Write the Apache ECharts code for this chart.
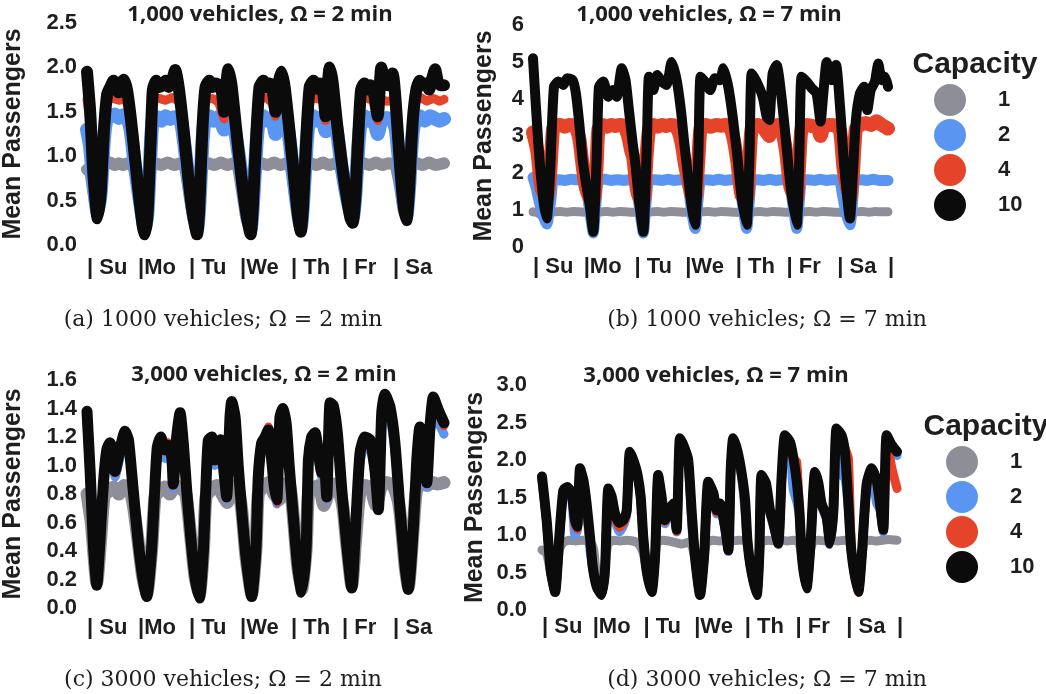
<!DOCTYPE html>
<html>
<head>
<meta charset="utf-8">
<script src="https://cdn.jsdelivr.net/npm/echarts@6.0.0/dist/echarts.min.js"></script>
<style>
html, body { margin: 0; padding: 0; background: #fff; }
#chart { width: 1046px; height: 694px; }
</style>
</head>
<body>
<div id="chart"></div>
<script>
// capacities and day labels
var capacities = ['1', '2', '4', '10'];
var days = ['| Su', '|Mo', '| Tu', '|We', '| Th', '| Fr', '| Sa', '|'];

// (a) 1000 vehicles, 2 min  -- [hour of week, mean passengers]
var aGray = [[0,0.85],[1.5,0.82],[3,0.6],[5,0.35],[6,0.55],[7,0.88],[9,0.91],[11,0.93],[13,0.9],[15,0.92],[17,0.9],[19,0.92],[21,0.9],[22.8,0.82],[25,0.45],[27.3,0.18],
  [28.8,0.5],[29.7,0.88],[32,0.92],[35,0.9],[38,0.93],[41,0.9],[44,0.92],[46,0.88],[48,0.6],[50,0.3],[51.8,0.18],
  [53,0.5],[54,0.88],[57,0.92],[60,0.9],[63,0.93],[66,0.9],[69,0.92],[71,0.88],[73,0.6],[75,0.3],[77,0.18],
  [78.3,0.5],[79.3,0.88],[82,0.92],[85,0.9],[88,0.93],[91,0.9],[94,0.92],[96,0.86],[98,0.55],[100.6,0.2],
  [101.8,0.5],[102.8,0.88],[105,0.92],[108,0.9],[111,0.93],[114,0.9],[117,0.92],[119.5,0.86],[122,0.55],[125,0.3],
  [126.5,0.55],[127.4,0.88],[130,0.92],[133,0.9],[136,0.93],[139,0.9],[142,0.92],[145,0.9],[147,0.7],[149,0.4],[150.3,0.32],
  [151.6,0.6],[152.4,0.88],[155,0.92],[158,0.9],[161,0.93],[164,0.9],[168,0.92]];
var aBlue = [[0,1.3],[1.5,1.1],[3,0.7],[5,0.36],[6.5,0.6],[8,1.2],[9.3,1.42],[11,1.45],[13,1.47],[15,1.43],[17,1.46],[19,1.42],[20.5,1.3],[22.5,0.9],[25,0.48],[27.3,0.18],
  [28.5,0.38],[30,1.1],[31,1.42],[33,1.44],[35,1.4],[37,1.45],[39,1.42],[41,1.44],[43,1.43],[44.5,1.35],[46,1.1],[48,0.7],[50,0.38],[51.8,0.18],
  [52.8,0.42],[54.3,1.15],[55.5,1.42],[57.5,1.45],[59.5,1.4],[61.5,1.44],[63,1.4],[64.5,1.3],[66,1.42],[68,1.42],[69.5,1.3],[71.5,1.0],[73.5,0.65],[75.5,0.33],[77,0.18],
  [78,0.42],[79.8,1.15],[81,1.42],[83,1.45],[85,1.4],[87,1.43],[88.7,1.25],[90,1.4],[92,1.43],[94,1.38],[95.5,1.15],[97.5,0.7],[99.2,0.38],[100.6,0.2],
  [101.7,0.47],[103.4,1.15],[104.7,1.42],[106.5,1.45],[108.5,1.4],[110.5,1.44],[112.3,1.28],[114,1.42],[116,1.42],[117.8,1.25],[120,0.85],[122.8,0.48],[125,0.3],
  [126.3,0.57],[127.8,1.15],[129,1.42],[130.5,1.45],[132.5,1.4],[134.5,1.44],[136.8,1.25],[138.5,1.4],[141,1.43],[143.8,1.4],[145.3,1.3],[147,0.9],[149,0.48],[150.3,0.33],
  [151.5,0.62],[153,1.2],[154.5,1.42],[156.5,1.45],[159,1.4],[161.5,1.45],[164,1.42],[166,1.4],[168,1.42]];
var aRed = [[0,1.64],[1.5,1.35],[3,0.78],[5,0.4],[6.5,0.64],[8,1.3],[9.6,1.63],[12,1.65],[15,1.63],[18,1.65],[19.5,1.52],[21,1.3],[23,0.9],[25,0.52],[27.3,0.3],
  [28.5,0.4],[30,1.15],[31.2,1.63],[34,1.65],[37,1.63],[40,1.66],[43.5,1.6],[45,1.35],[47.5,0.78],[49.5,0.45],[51.8,0.3],
  [52.8,0.45],[54.3,1.25],[56,1.63],[59,1.65],[62,1.6],[64.5,1.42],[65.5,1.62],[68,1.63],[70,1.3],[72.5,0.78],[75,0.42],[77,0.3],
  [78,0.45],[79.8,1.25],[81.5,1.63],[84,1.66],[87,1.6],[88.7,1.45],[90,1.62],[93,1.63],[95,1.3],[97.5,0.72],[99.2,0.42],[100.6,0.3],
  [101.7,0.5],[103.4,1.25],[105,1.63],[108,1.65],[111,1.62],[112.3,1.4],[114,1.62],[116,1.64],[117.5,1.38],[120,0.85],[122.5,0.5],[125,0.38],
  [126.3,0.58],[127.8,1.25],[129.3,1.63],[131.5,1.65],[134.5,1.62],[136.8,1.4],[138.5,1.64],[141,1.62],[143.8,1.63],[145.3,1.45],[147.3,0.88],[149,0.5],[150.3,0.4],
  [151.5,0.62],[153.3,1.35],[155,1.63],[157,1.66],[160,1.62],[163,1.65],[166,1.62],[168,1.64]];
var aBlack = [[0,1.95],[1.5,1.5],[3,0.8],[5,0.3],[6.5,0.6],[8,1.3],[9.5,1.7],[11,1.78],[12.5,1.85],[13.5,1.8],[14.8,1.72],[16,1.82],[17.3,1.86],[18.8,1.75],[20.5,1.45],[22.5,1.0],[24.5,0.55],[26.3,0.2],[27.3,0.12],
  [28.5,0.35],[30,1.2],[31,1.75],[32.5,1.85],[34,1.78],[35.5,1.8],[37,1.85],[38.5,1.78],[40,1.85],[41.5,1.97],[43,1.8],[45,1.4],[47.5,0.8],[49.5,0.4],[51.8,0.12],
  [52.8,0.4],[54.3,1.3],[55.8,1.78],[57.5,1.85],[59,1.78],[60.5,1.82],[62,1.8],[63.5,1.72],[64.5,1.5],[65.5,1.8],[66.5,1.98],[68,1.8],[70,1.35],[72.5,0.8],[75,0.35],[77,0.12],
  [78,0.4],[79.8,1.3],[81.2,1.78],[83,1.85],[84.5,1.78],[86,1.82],[87.5,1.72],[88.7,1.5],[90,1.8],[91.5,1.95],[93,1.78],[95,1.35],[97.5,0.75],[99.2,0.35],[100.6,0.15],
  [101.7,0.45],[103.4,1.3],[104.8,1.78],[106.5,1.85],[108,1.76],[109.5,1.82],[111,1.75],[112.3,1.45],[113.3,1.8],[114.2,2.0],[115.5,1.85],[117.5,1.4],[120,0.9],[122.5,0.5],[124,0.3],[125,0.25],
  [126.3,0.55],[127.8,1.3],[129,1.75],[130.5,1.82],[132,1.75],[133.5,1.8],[135,1.72],[136.8,1.45],[138.5,2.0],[140,1.85],[141.5,1.8],[143.8,1.93],[145.3,1.6],[147.3,0.9],[149,0.45],[150.3,0.28],
  [151.5,0.6],[153.3,1.4],[155,1.75],[156.5,1.85],[158,1.8],[159.5,1.82],[161,1.75],[162.5,1.88],[163.8,1.98],[165,1.85],[166.5,1.8],[168,1.8]];

// (b) 1000 vehicles, 7 min
var bGray = [[0,0.95],[2,0.93],[4,0.85],[6.5,0.7],[8,0.9],[10,0.95],[13,0.96],[16,0.94],[19,0.96],[22,0.95],[25,0.94],[26.7,0.9],[28.5,0.5],
  [30,0.9],[32,0.95],[35,0.96],[38,0.94],[41,0.96],[44,0.95],[47,0.94],[50,0.92],[51,0.8],[52.2,0.5],
  [53.6,0.9],[56,0.95],[59,0.96],[62,0.94],[65,0.96],[68,0.95],[71,0.94],[74,0.93],[75.2,0.85],[76.7,0.62],
  [78,0.9],[80,0.95],[83,0.96],[86,0.94],[89,0.96],[92,0.95],[95,0.94],[98.5,0.93],[99.8,0.85],[101.1,0.62],
  [102.4,0.9],[104.5,0.95],[107.5,0.96],[110.5,0.94],[113.5,0.96],[116.5,0.95],[119.5,0.94],[122.5,0.93],[123.7,0.85],[124.8,0.62],
  [126,0.9],[128,0.95],[131,0.96],[134,0.94],[137,0.96],[140,0.95],[143,0.94],[147.5,0.93],[148.8,0.85],[150,0.7],
  [151.2,0.9],[153,0.95],[156,0.96],[159,0.94],[162,0.96],[165,0.95],[168,0.95]];
var bBlue = [[0,1.88],[1.5,1.6],[3.5,1.1],[6.5,0.62],[8.5,1.3],[9.5,1.8],[12,1.82],[15,1.8],[18,1.83],[21,1.82],[23.5,1.82],[24.8,1.72],[26,1.3],[27.3,0.8],[28.5,0.38],
  [29.8,1.2],[31,1.8],[34,1.83],[37,1.8],[40,1.82],[43,1.8],[46,1.82],[48.6,1.8],[49.6,1.4],[51,0.8],[52.2,0.38],
  [53.5,1.2],[54.8,1.8],[58,1.82],[61,1.8],[64,1.83],[67,1.8],[70,1.82],[72.5,1.8],[73.8,1.5],[75,1.0],[76.7,0.5],
  [78,1.2],[79.3,1.8],[82,1.82],[85,1.8],[88,1.83],[91,1.8],[94,1.82],[97,1.8],[98.3,1.45],[99.7,0.95],[101.1,0.5],
  [102.3,1.2],[103.4,1.8],[106,1.82],[109,1.8],[112,1.83],[115,1.8],[118,1.82],[120.8,1.8],[122,1.5],[123.5,0.95],[124.8,0.5],
  [126,1.2],[127.1,1.8],[130,1.82],[133,1.8],[136,1.83],[139,1.8],[142,1.82],[145,1.8],[146.5,1.4],[148,0.95],[150,0.6],
  [151.2,1.2],[152.3,1.8],[155,1.82],[158,1.8],[161,1.83],[164,1.8],[168,1.8]];
var bRed = [[0,3.1],[2,2.6],[4,1.6],[6.5,1.3],[8,1.9],[9.5,3.2],[11,3.28],[13,3.3],[15,3.25],[17,3.3],[19,3.28],[20.5,3.2],[22,2.9],[23.8,2.05],[25,1.6],[27,1.3],[28.5,1.2],
  [30,2.1],[31,3.2],[33,3.3],[35,3.25],[37,3.3],[39,3.27],[41,3.3],[43,3.28],[45,3.0],[46.5,2.6],[47.5,2.4],[49,1.6],[50.5,1.3],[52.2,1.2],
  [53.8,2.5],[55,3.2],[57,3.3],[59,3.25],[61,3.3],[63,3.27],[65,3.3],[67,3.28],[69,3.1],[70.5,2.75],[72,2.2],[73.5,1.8],[75,1.4],[76.7,1.3],
  [78.2,2.3],[79.3,3.2],[81.5,3.3],[84,3.25],[86.5,3.3],[89,3.28],[91.5,3.3],[93.5,3.2],[95,2.9],[96.7,2.3],[98.7,1.4],[101.1,1.3],
  [102.4,2.3],[103.5,3.2],[106,3.3],[108.5,3.25],[110.5,3.1],[111.8,3.0],[113.5,3.25],[116,3.3],[118,3.1],[119.7,2.6],[121.9,1.6],[124.8,1.3],
  [126,2.3],[127.1,3.2],[129.5,3.3],[132,3.27],[134.5,3.25],[136.1,3.0],[137.5,3.25],[140,3.3],[143,3.28],[145.3,3.15],[147,2.1],[150,1.3],
  [151.3,1.9],[152.8,3.2],[155,3.3],[157.5,3.35],[160,3.3],[162.5,3.4],[165,3.3],[168,3.2]];
var bBlack = [[0,5.1],[2.5,2.8],[4.9,1.27],[6.5,0.77],[8,1.9],[9.9,4.33],[12,4.47],[14.4,4.38],[16.2,4.56],[18.8,4.51],[20.3,4.15],[21.9,3.34],[23.5,2.35],[25.1,1.72],[26.7,1.18],[28.5,0.41],
  [30.1,2.35],[31.2,4.33],[33.3,4.47],[35.6,4.06],[37.7,4.24],[39.6,4.06],[42,4.83],[43.8,4.51],[45.4,3.7],[47,2.89],[48.6,2.17],[50.3,1.18],[52.2,0.41],
  [53.8,2.62],[54.9,4.6],[56.9,4.24],[58.8,4.65],[60.9,4.47],[63.2,4.38],[65.6,5.0],[68,4.51],[70,3.7],[71.6,2.8],[73.2,1.99],[75.1,1.09],[76.7,0.6],
  [78.2,2.35],[79.3,4.6],[81.4,4.47],[83.8,4.24],[86.1,4.56],[88.5,4.51],[90.1,4.83],[92.4,4.33],[94.5,3.52],[96.7,2.44],[98.7,1.36],[101.1,0.6],
  [102.4,2.35],[103.5,4.69],[105.8,4.47],[108.7,4.06],[110.6,3.52],[111.8,3.43],[113.4,4.69],[115.3,4.92],[117.4,4.15],[119.7,2.89],[121.9,1.63],[124.8,0.6],
  [126,2.35],[127.1,4.6],[129.5,4.47],[131.9,4.29],[134.2,4.15],[136.1,3.39],[137.4,4.15],[139,5.0],[141.3,4.51],[143.4,4.92],[145.3,3.79],[147.3,2.17],[150,0.77],
  [151.3,1.9],[152.8,3.43],[154.7,4.15],[156.6,4.33],[158.2,3.7],[159.8,4.24],[161.8,4.47],[163.4,4.96],[165,4.51],[166.6,4.6],[168,4.33]];

// (c) 3000 vehicles, 2 min
var cGray = [[0,0.8],[2,0.6],[4.6,0.18],[6.5,0.5],[8,0.78],[10,0.82],[12.5,0.85],[15,0.8],[17.5,0.86],[20,0.84],[22,0.7],[24.2,0.45],[26.2,0.22],[28.1,0.1],
  [30.4,0.41],[32,0.78],[34,0.82],[36.5,0.85],[39,0.8],[41.5,0.86],[44,0.84],[46.5,0.8],[48.8,0.5],[50.8,0.22],[52.9,0.1],
  [54.8,0.41],[56,0.78],[58.5,0.83],[61,0.86],[63.5,0.8],[66,0.74],[68.5,0.86],[71,0.84],[72.8,0.69],[74.8,0.36],[77.5,0.1],
  [79.5,0.41],[80.6,0.8],[83,0.85],[85.5,0.88],[88,0.8],[90.5,0.76],[93,0.87],[95.5,0.85],[97.1,0.64],[99,0.31],[101,0.13],
  [103.1,0.41],[104.2,0.8],[106.5,0.84],[109,0.86],[111.5,0.72],[114,0.82],[116.5,0.87],[119,0.8],[120.5,0.7],[122.2,0.45],[124.6,0.16],
  [126.5,0.5],[128.5,0.82],[131,0.86],[133.5,0.84],[136,0.72],[138.5,0.85],[141,0.88],[144,0.86],[146.5,0.75],[147.8,0.6],[149.7,0.29],[151.2,0.15],
  [153.6,0.57],[155,0.82],[157.5,0.88],[160,0.86],[162.5,0.88],[165,0.87],[168,0.88]];
var cHours = [0,1.5,3,4.6,6,7.7,9.3,10.8,12.4,13.2,15.5,17.9,19.5,21,22.6,24.2,26.2,28.1,
  30.4,32,33.1,34.7,36.7,38.3,39.9,40.6,42.2,43.8,45.3,46.9,48.8,50.8,52.9,
  54.8,56,57.1,58.7,60.2,61.8,62.9,64.5,65.7,67.3,68.1,69.7,71.2,72.8,74.8,77.5,
  79.5,80.6,82.2,83.8,85.4,86.5,88,89.3,90.8,92.1,93.7,95.2,97.1,99,101,
  103.1,104.2,105.7,107.3,108.9,110.5,111.6,112.8,114.4,115.9,117.8,119.9,122.2,124.6,
  126.5,128.5,130.8,133.2,135.5,137.1,138.7,140.2,142.6,144.9,147.3,149.7,151.2,
  153.6,155.2,156.7,158.6,159.9,161.4,163,165.3,168];
var cBlue = [1.3,0.92,0.45,0.16,0.45,0.84,1.05,1.1,1.04,0.92,1.05,1.17,1.12,0.93,0.69,0.45,0.22,0.08,
  0.41,0.84,1.05,1.12,1.05,1.08,1.0,0.84,1.12,1.28,1.1,0.8,0.5,0.22,0.07,
  0.41,0.84,1.1,1.13,1.0,1.07,1.1,0.92,0.76,1.25,1.36,1.27,0.97,0.69,0.36,0.08,
  0.41,0.88,1.1,1.13,1.18,1.05,0.85,0.73,1.25,1.32,1.24,0.97,0.64,0.31,0.11,
  0.41,0.99,1.13,1.16,1.03,0.92,0.99,0.76,1.35,1.34,1.17,0.81,0.45,0.14,
  0.6,1.03,1.13,1.12,0.93,0.69,1.28,1.38,1.33,1.1,0.69,0.29,0.13,
  0.57,1.0,1.2,1.1,0.85,1.2,1.36,1.3,1.22];
var cRed = [1.36,0.95,0.45,0.16,0.45,0.86,1.1,1.15,1.09,0.95,1.1,1.22,1.17,0.95,0.69,0.45,0.22,0.08,
  0.41,0.86,1.12,1.18,1.1,1.16,1.05,0.86,1.18,1.35,1.15,0.83,0.5,0.22,0.07,
  0.41,0.86,1.16,1.18,1.03,1.14,1.16,0.95,0.77,1.32,1.43,1.32,0.99,0.69,0.36,0.08,
  0.41,0.91,1.15,1.19,1.27,1.1,0.86,0.74,1.32,1.38,1.29,0.99,0.64,0.31,0.11,
  0.41,1.03,1.19,1.22,1.08,0.94,1.03,0.77,1.42,1.4,1.22,0.83,0.45,0.14,
  0.6,1.08,1.19,1.17,0.96,0.69,1.35,1.47,1.39,1.15,0.69,0.29,0.13,
  0.57,1.03,1.25,1.15,0.87,1.25,1.45,1.37,1.28];
var cBlack = [1.38,0.95,0.45,0.16,0.45,0.87,1.11,1.16,1.1,0.96,1.11,1.24,1.18,0.95,0.69,0.45,0.22,0.08,
  0.41,0.87,1.13,1.2,1.11,1.14,1.06,0.87,1.2,1.37,1.16,0.83,0.5,0.22,0.07,
  0.41,0.87,1.18,1.2,1.04,1.13,1.18,0.95,0.78,1.34,1.45,1.34,0.99,0.69,0.36,0.08,
  0.41,0.92,1.16,1.2,1.25,1.11,0.87,0.76,1.34,1.4,1.3,0.99,0.64,0.31,0.11,
  0.41,1.04,1.2,1.23,1.09,0.95,1.04,0.78,1.44,1.42,1.23,0.83,0.45,0.14,
  0.6,1.09,1.2,1.18,0.97,0.69,1.37,1.5,1.41,1.16,0.69,0.29,0.13,
  0.57,1.04,1.27,1.16,0.88,1.27,1.48,1.39,1.3];

// (d) 3000 vehicles, 7 min
var dGray = [[0,0.8],[2.2,0.75],[4.1,0.5],[6.2,0.26],[8.2,0.8],[10,0.9],[13,0.93],[16,0.92],[19,0.93],[22,0.92],[23.5,0.88],[24.5,0.8],[26,0.4],[28.2,0.22],
  [30,0.6],[31.2,0.88],[34,0.93],[37,0.92],[40,0.93],[43,0.92],[45,0.9],[46.5,0.85],[48,0.75],[50,0.45],[51.9,0.26],
  [53.5,0.7],[54.5,0.9],[57,0.93],[60,0.92],[63,0.9],[66,0.88],[69,0.9],[71,0.85],[72.5,0.65],[74.8,0.22],
  [76.7,0.7],[78,0.9],[81,0.93],[84,0.92],[87,0.93],[90,0.92],[93,0.93],[96,0.92],[97.5,0.85],[98.7,0.58],[101.6,0.22],
  [102.8,0.7],[103.8,0.9],[107,0.93],[110,0.92],[113,0.93],[116,0.92],[119,0.93],[121.5,0.9],[123,0.71],[125.2,0.31],
  [127,0.8],[128.5,0.92],[131,0.93],[134,0.92],[137,0.93],[140,0.92],[143,0.93],[145.5,0.9],[146.8,0.72],[149.7,0.26],
  [151.3,0.7],[152.5,0.9],[155,0.93],[158,0.92],[161,0.93],[164,0.94],[168,0.93]];
var dHours = [0,2.2,4.1,6.2,8.2,10.1,12,14,15.6,16.7,18,19.6,21.1,22.7,24,25.9,28.2,
  29.8,31.4,33,34.5,36.6,38.5,40.1,41.6,43.5,45.1,46.7,47.9,49.5,51.9,
  53.5,55,56.6,58.2,60.1,62.1,63.7,65.3,67.2,69.2,70.8,72.4,74.8,
  76.7,78.7,81.1,82.6,84.2,86.6,88.2,89.3,90.5,92.4,94.5,96.1,97.2,98.7,101.6,
  102.8,103.9,106,107.9,109.5,111.8,113.4,115,117.4,118.9,120.5,121.8,123,125.2,
  127.1,129.2,130.8,132.3,134.7,136.3,137.9,139.4,141.8,143.4,145,146.5,149.7,
  151.3,153.6,156,158.4,159.9,161.5,163.1,165.5,168];
var dBlue = [1.74,1.17,0.52,0.24,0.95,1.56,1.6,1.5,1.0,1.05,1.84,1.68,1.36,0.8,0.56,0.3,0.2,
  0.52,1.58,1.46,1.2,1.04,1.12,1.28,2.06,1.94,1.78,1.48,0.96,0.52,0.24,
  0.7,1.76,1.46,1.15,1.28,1.38,1.04,2.24,2.14,1.96,1.15,0.7,0.2,
  0.7,1.67,1.52,1.28,1.38,1.07,0.78,1.82,2.24,2.08,1.76,1.3,0.9,0.56,0.2,
  0.7,1.76,1.64,1.28,1.12,0.87,1.72,2.28,2.1,1.6,1.45,1.25,0.7,0.28,
  0.87,1.8,1.64,1.38,1.2,0.87,1.3,2.36,1.8,1.75,1.35,0.74,0.24,
  0.7,1.63,1.84,1.42,1.35,1.04,2.26,2.14,2.06];
var dRed = [1.76,1.18,0.53,0.24,0.96,1.58,1.62,1.53,1.15,1.08,1.86,1.7,1.4,0.9,0.57,0.31,0.2,
  0.53,1.6,1.48,1.25,1.1,1.16,1.3,2.08,1.96,1.8,1.5,0.97,0.53,0.24,
  0.71,1.78,1.48,1.18,1.3,1.4,1.05,2.26,2.16,1.98,1.25,0.71,0.2,
  0.71,1.69,1.54,1.3,1.4,1.09,0.79,1.84,2.26,2.1,1.8,1.4,0.92,0.57,0.2,
  0.71,1.78,1.66,1.3,1.14,0.88,1.75,2.3,2.2,2.02,1.98,1.35,0.71,0.29,
  0.88,1.82,1.66,1.4,1.22,0.88,1.32,2.38,2.3,2.16,2.02,0.8,0.24,
  0.71,1.65,1.86,1.7,1.4,1.06,2.28,1.9,1.62];
var dBlack = [1.78,1.2,0.53,0.24,0.98,1.6,1.64,1.56,1.2,1.11,1.89,1.73,1.42,0.98,0.58,0.31,0.2,
  0.53,1.62,1.51,1.29,1.16,1.2,1.33,2.11,1.98,1.82,1.51,0.98,0.53,0.24,
  0.71,1.8,1.51,1.2,1.33,1.42,1.07,2.29,2.18,2.0,1.33,0.71,0.2,
  0.71,1.71,1.56,1.33,1.42,1.11,0.8,1.87,2.29,2.13,1.82,1.47,0.93,0.58,0.2,
  0.71,1.8,1.69,1.33,1.16,0.89,1.78,2.33,2.24,2.04,1.73,1.33,0.71,0.29,
  0.89,1.84,1.69,1.42,1.24,0.89,1.33,2.42,2.33,2.09,1.42,0.76,0.24,
  0.71,1.67,1.89,1.73,1.42,1.07,2.33,2.2,2.11];

var colors = ['#8e8e98', '#5b95f2', '#e6432b', '#0b0b0b'];
var txt = '#1e1e1e';
var sans = 'Liberation Sans';

function pairs(hours, vals) {
  return hours.map(function (h, i) { return [h, vals[i]]; });
}

function line(k, idx, data, width) {
  return {
    name: capacities[k], type: 'line', xAxisIndex: idx, yAxisIndex: idx,
    data: data, symbol: 'none', showSymbol: false, smooth: 0.2, clip: false,
    silent: true, animation: false,
    itemStyle: { color: colors[k] },
    lineStyle: { color: colors[k], width: width, cap: 'round', join: 'round' }
  };
}

// grids: a, b, c, d
var grids = [
  { left: 87, top: 23, width: 357, height: 222 },
  { left: 533, top: 25, width: 355, height: 222 },
  { left: 87, top: 380, width: 357, height: 228 },
  { left: 542, top: 385, width: 355, height: 225 }
];
grids.forEach(function (g) { g.outerBoundsMode = 'none'; g.containLabel = false; });

var yMax = [2.5, 6, 1.6, 3.0];
var yStep = [0.5, 1, 0.2, 0.5];
var labMargin = [10, 9, 10, 15];
var nameGap = [61, 36, 61, 54];
var dayMargin = [12, 9, 9, 6];
var lastBar = [false, true, false, true];

var xAxes = [], yAxes = [];
for (var i = 0; i < 4; i++) {
  (function (i) {
    xAxes.push({
      type: 'value', gridIndex: i, min: 0, max: 168, interval: 24,
      axisLine: { show: false }, axisTick: { show: false }, splitLine: { show: false },
      axisLabel: {
        show: true, align: 'left', margin: dayMargin[i], showMinLabel: true, showMaxLabel: true,
        color: txt, fontFamily: sans, fontWeight: 'bold', fontSize: 22,
        formatter: function (v) {
          var d = Math.round(v / 24);
          if (d === 7 && !lastBar[i]) return '';
          return days[d];
        }
      }
    });
    yAxes.push({
      type: 'value', gridIndex: i, min: 0, max: yMax[i], interval: yStep[i],
      axisLine: { show: false }, axisTick: { show: false }, splitLine: { show: false },
      name: 'Mean Passengers', nameLocation: 'middle', nameRotate: 90, nameGap: nameGap[i],
      nameTextStyle: { color: txt, fontFamily: sans, fontWeight: 'bold', fontSize: 25 },
      axisLabel: {
        margin: labMargin[i], color: txt, fontFamily: sans, fontWeight: 'bold', fontSize: 22,
        formatter: function (v) { return i === 1 ? String(v) : v.toFixed(1); }
      }
    });
  })(i);
}

var series = [
  line(0, 0, aGray, 12), line(1, 0, aBlue, 14), line(2, 0, aRed, 9), line(3, 0, aBlack, 12),
  line(0, 1, bGray, 9), line(1, 1, bBlue, 11), line(2, 1, bRed, 14), line(3, 1, bBlack, 10),
  line(0, 2, cGray, 13), line(1, 2, pairs(cHours, cBlue), 9), line(2, 2, pairs(cHours, cRed), 9), line(3, 2, pairs(cHours, cBlack), 11),
  line(0, 3, dGray, 9), line(1, 3, pairs(dHours, dBlue), 9), line(2, 3, pairs(dHours, dRed), 9), line(3, 3, pairs(dHours, dBlack), 10)
];

function label(text, x, y, size, weight, family) {
  return {
    text: text, left: x, top: y, padding: 0, textAlign: 'center', textVerticalAlign: 'middle',
    textStyle: { color: txt, fontSize: size, fontWeight: weight, fontFamily: family }
  };
}

var titles = [
  label('1,000 vehicles, Ω = 2 min', 260, 15, 22, 'bold', 'Open Sans'),
  label('1,000 vehicles, Ω = 7 min', 709, 15, 22, 'bold', 'Open Sans'),
  label('3,000 vehicles, Ω = 2 min', 264, 375, 22, 'bold', 'Open Sans'),
  label('3,000 vehicles, Ω = 7 min', 716, 376, 22, 'bold', 'Open Sans'),
  label('Capacity', 975, 65, 30, 'bold', sans),
  label('Capacity', 986, 427, 30, 'bold', sans),
  label('(a) 1000 vehicles; Ω = 2 min', 223, 320, 22, 'normal', 'DejaVu Serif'),
  label('(b) 1000 vehicles; Ω = 7 min', 767, 320, 22, 'normal', 'DejaVu Serif'),
  label('(c) 3000 vehicles; Ω = 2 min', 223, 680, 22, 'normal', 'DejaVu Serif'),
  label('(d) 3000 vehicles; Ω = 7 min', 767, 680, 22, 'normal', 'DejaVu Serif')
];

function legend(x, y) {
  return {
    data: capacities, orient: 'vertical', left: x, top: y, padding: 0,
    itemWidth: 32, itemHeight: 32, itemGap: 3, icon: 'circle', selectedMode: false,
    itemStyle: { borderWidth: 0 },
    textStyle: { color: txt, fontFamily: sans, fontWeight: 'bold', fontSize: 22, padding: [0, 0, 0, 27] }
  };
}

var chart = echarts.init(document.getElementById('chart'), null, { renderer: 'canvas' });
chart.setOption({
  backgroundColor: '#ffffff',
  animation: false,
  title: titles,
  legend: [legend(934, 84), legend(946, 446)],
  grid: grids,
  xAxis: xAxes,
  yAxis: yAxes,
  series: series
});
window.addEventListener('resize', function () { chart.resize(); });
</script>
</body>
</html>
